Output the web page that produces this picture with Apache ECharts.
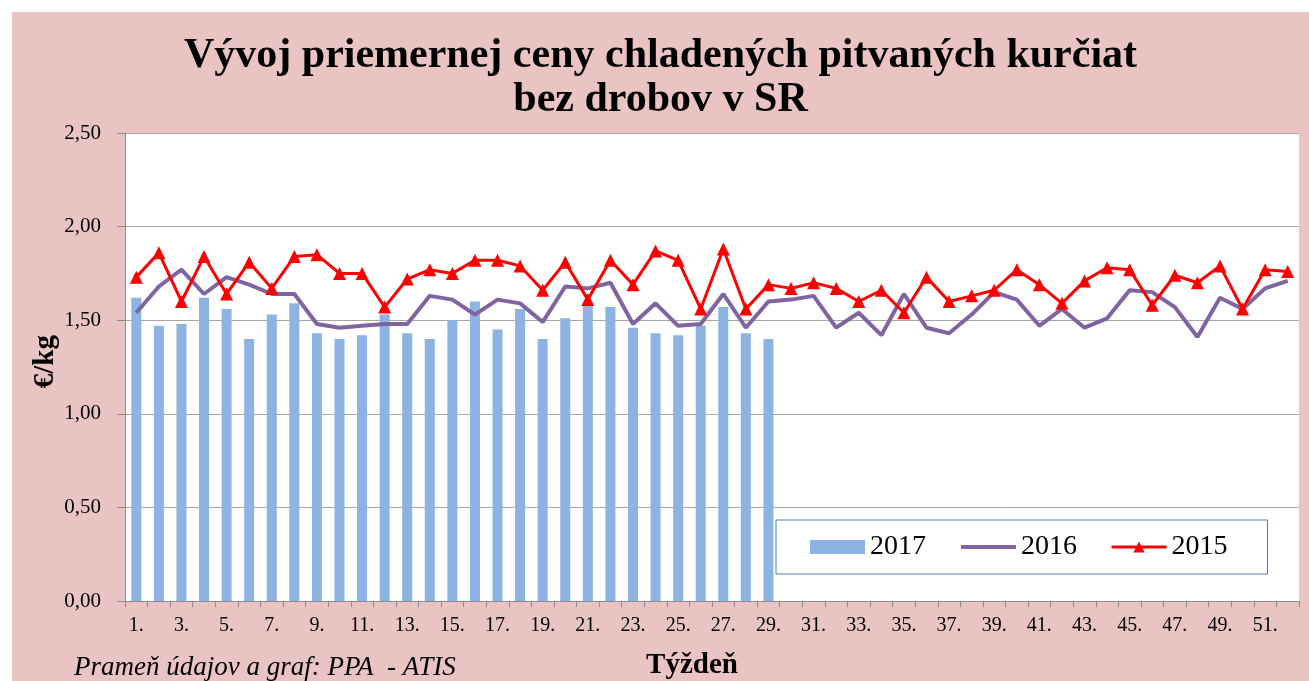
<!DOCTYPE html>
<html>
<head>
<meta charset="utf-8">
<script src="https://cdn.jsdelivr.net/npm/echarts@6/dist/echarts.min.js"></script>
<style>
  html, body { margin: 0; padding: 0; background: #fff; width: 1309px; height: 681px; overflow: hidden; }
  #chart { position: absolute; left: 12px; top: 12px; width: 1297px; height: 669px; background: #eac3c3; }
</style>
</head>
<body>
<div id="chart"></div>
<script>
// týždne 1..52
const weeks = [];
for (let i = 1; i <= 52; i++) weeks.push(i + '.');

// ceny €/kg odčítané z grafu
const price2017 = [1.62, 1.47, 1.48, 1.62, 1.56, 1.40, 1.53, 1.59, 1.43, 1.40,
  1.42, 1.53, 1.43, 1.40, 1.50, 1.60, 1.45, 1.56, 1.40, 1.51,
  1.58, 1.57, 1.46, 1.43, 1.42, 1.47, 1.57, 1.43, 1.40];

const price2016 = [1.54, 1.68, 1.77, 1.64, 1.73, 1.69, 1.64, 1.64, 1.48, 1.46,
  1.47, 1.48, 1.48, 1.63, 1.61, 1.53, 1.61, 1.59, 1.49, 1.68,
  1.67, 1.70, 1.48, 1.59, 1.47, 1.48, 1.64, 1.46, 1.60, 1.61,
  1.63, 1.46, 1.54, 1.42, 1.64, 1.46, 1.43, 1.53, 1.65, 1.61,
  1.47, 1.56, 1.46, 1.51, 1.66, 1.65, 1.57, 1.41, 1.62, 1.56,
  1.67, 1.71];

const price2015 = [1.73, 1.86, 1.60, 1.84, 1.64, 1.81, 1.67, 1.84, 1.85, 1.75,
  1.75, 1.57, 1.72, 1.77, 1.75, 1.82, 1.82, 1.79, 1.66, 1.81,
  1.61, 1.82, 1.69, 1.87, 1.82, 1.56, 1.88, 1.56, 1.69, 1.67,
  1.70, 1.67, 1.60, 1.66, 1.54, 1.73, 1.60, 1.63, 1.66, 1.77,
  1.69, 1.59, 1.71, 1.78, 1.77, 1.58, 1.74, 1.70, 1.79, 1.56,
  1.77, 1.76];

const serif = '"Liberation Serif", "Times New Roman", serif';

const chart = echarts.init(document.getElementById('chart'));

chart.setOption({
  animation: false,
  textStyle: { fontFamily: serif, color: '#000' },
  title: {
    text: 'Vývoj priemernej ceny chladených pitvaných kurčiat\nbez drobov v SR',
    left: 'center',
    top: 17,
    textStyle: { fontFamily: serif, fontSize: 42, fontWeight: 'bold', color: '#000', lineHeight: 44 }
  },
  grid: {
    left: 113, right: 10, top: 121, bottom: 80,
    show: true, backgroundColor: '#fff', borderWidth: 0
  },
  legend: {
    left: 764, top: 508,
    padding: [13, 40, 13, 34],
    backgroundColor: '#fff',
    borderColor: '#4f81bd',
    borderWidth: 1,
    itemWidth: 55, itemHeight: 14, itemGap: 33,
    textStyle: { fontFamily: serif, fontSize: 28, color: '#000' },
    data: [
      { name: '2017', icon: 'rect' },
      { name: '2016', itemStyle: { opacity: 0 }, lineStyle: { width: 4 } },
      { name: '2015', lineStyle: { width: 3 } }
    ]
  },
  xAxis: {
    type: 'category',
    data: weeks,
    boundaryGap: true,
    axisLine: { lineStyle: { color: '#8c8c8c' } },
    axisTick: { show: true, alignWithLabel: false, interval: 0, length: 6, lineStyle: { color: '#8c8c8c' } },
    axisLabel: { interval: 1, margin: 15, fontSize: 20, fontFamily: serif, color: '#000' }
  },
  yAxis: {
    type: 'value',
    min: 0, max: 2.5, interval: 0.5,
    axisLine: { show: true, lineStyle: { color: '#8c8c8c' } },
    axisTick: { show: true, length: 8, lineStyle: { color: '#8c8c8c' } },
    splitLine: { lineStyle: { color: '#a6a6a6' } },
    axisLabel: {
      margin: 24, fontSize: 21, fontFamily: serif, color: '#000',
      formatter: v => v.toFixed(2).replace('.', ',')
    }
  },
  graphic: [
    {
      type: 'text', left: 19, top: 323, rotation: Math.PI / 2,
      style: { text: '€/kg', font: 'bold 29px ' + serif, fill: '#000' }
    },
    {
      type: 'text', x: 680, y: 654, style: {
        text: 'Týždeň', font: 'bold 29px ' + serif, fill: '#000', align: 'center', verticalAlign: 'middle'
      }
    },
    {
      type: 'text', x: 62, y: 656, style: {
        text: 'Prameň údajov a graf: PPA  - ATIS', font: 'italic 27px ' + serif, fill: '#000', verticalAlign: 'middle'
      }
    }
  ],
  series: [
    {
      name: '2017',
      type: 'bar',
      data: price2017,
      barWidth: 10,
      itemStyle: { color: '#8db3e2' }
    },
    {
      name: '2016',
      type: 'line',
      data: price2016,
      symbol: 'none',
      lineStyle: { color: '#8064a2', width: 4 },
      itemStyle: { color: '#8064a2' }
    },
    {
      name: '2015',
      type: 'line',
      data: price2015,
      symbol: 'triangle',
      symbolSize: 13,
      lineStyle: { color: '#ff0000', width: 3 },
      itemStyle: { color: '#ff0000' }
    }
  ]
});
</script>
</body>
</html>
